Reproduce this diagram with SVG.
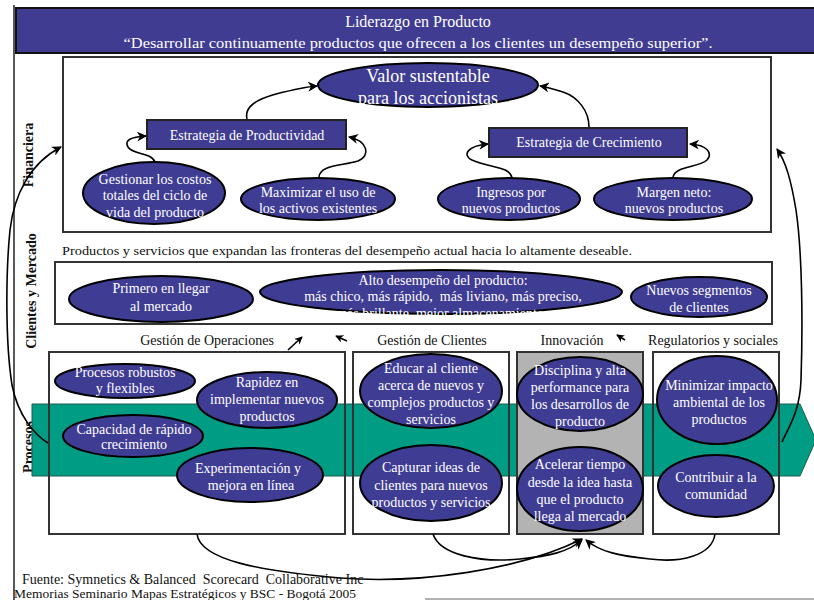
<svg xmlns="http://www.w3.org/2000/svg" width="814" height="600" viewBox="0 0 814 600">
  <defs>
    <marker id="arr" viewBox="0 0 10 10" refX="9" refY="5" markerWidth="10" markerHeight="10" markerUnits="userSpaceOnUse" orient="auto">
      <path d="M0,0 L10,5 L0,10 L3,5 Z" fill="#000"/>
    </marker>
    <marker id="arrS" viewBox="0 0 10 10" refX="9" refY="5" markerWidth="8" markerHeight="8" markerUnits="userSpaceOnUse" orient="auto">
      <path d="M0,0 L10,5 L0,10 L3,5 Z" fill="#000"/>
    </marker>
  </defs>
  <style>
    text { font-family: "Liberation Serif", "Times New Roman", serif; }
    .hdr { fill: #3f3c91; stroke: #111; stroke-width: 2; }
    .box { fill: none; stroke: #333; stroke-width: 2; }
    .sbox { fill: #3f3c91; stroke: #222; stroke-width: 2; }
    .ell { fill: #3f3c94; stroke: #000; stroke-width: 2; }
    .wt { fill: #fff; font-size: 14px; text-anchor: middle; }
    .bk { fill: #111; font-size: 14px; }
    .mid { text-anchor: middle; }
    .vlab { fill: #111; font-size: 14px; font-weight: bold; text-anchor: middle; }
    .con { fill: none; stroke: #000; stroke-width: 1.6; }
  </style>

  <rect width="814" height="600" fill="#fff"/>

  <!-- outer frame -->
  <line x1="14" y1="5" x2="14" y2="600" stroke="#222" stroke-width="1.5"/>
  <line x1="425" y1="599" x2="814" y2="599" stroke="#999" stroke-width="1.5"/>

  <!-- header -->
  <g id="header">
    <rect class="hdr" x="16" y="8" width="806" height="45"/>
    <text class="wt" x="418" y="27" style="font-size:16px">Liderazgo en Producto</text>
    <text class="wt" x="418" y="48" style="font-size:15.5px" textLength="589" lengthAdjust="spacingAndGlyphs">“Desarrollar continuamente productos que ofrecen a los clientes un desempeño superior”.</text>
  </g>

  <!-- perspective labels -->
  <g id="labels">
    <text class="vlab" transform="translate(33,155) rotate(-90)">Financiera</text>
    <text class="vlab" transform="translate(36,291) rotate(-90)">Clientes y Mercado</text>
    <text class="vlab" transform="translate(33,447) rotate(-90)">Procesos</text>
  </g>

  <!-- financial perspective -->
  <g id="financiera">
    <rect class="box" x="63" y="57" width="708" height="175"/>
  </g>
  <g id="valor">
    <ellipse class="ell" cx="428" cy="85" rx="110" ry="22"/>
    <text class="wt" x="428" style="font-size:18px"><tspan x="428" y="82">Valor sustentable</tspan><tspan x="428" y="104">para los accionistas</tspan></text>
  </g>
  <g id="productividad">
    <rect class="sbox" x="147" y="120" width="199" height="29"/>
    <text class="wt" x="247" y="140">Estrategia de Productividad</text>
  </g>
  <g id="crecimiento">
    <rect class="sbox" x="489" y="128" width="198" height="29"/>
    <text class="wt" x="589" y="147">Estrategia de Crecimiento</text>
  </g>
  <g id="gestionar">
    <ellipse class="ell" cx="154" cy="193" rx="71" ry="31"/>
    <text class="wt"><tspan x="155" y="184">Gestionar los costos</tspan><tspan x="155" y="200">totales del ciclo de</tspan><tspan x="155" y="217">vida del producto</tspan></text>
  </g>
  <g id="maximizar">
    <ellipse class="ell" cx="318" cy="199" rx="77" ry="21"/>
    <text class="wt"><tspan x="318" y="197">Maximizar el uso de</tspan><tspan x="318" y="213">los activos existentes</tspan></text>
  </g>
  <g id="ingresos">
    <ellipse class="ell" cx="509" cy="199" rx="71" ry="21"/>
    <text class="wt"><tspan x="511" y="197">Ingresos por</tspan><tspan x="511" y="213">nuevos productos</tspan></text>
  </g>
  <g id="margen">
    <ellipse class="ell" cx="673" cy="199" rx="79" ry="21"/>
    <text class="wt"><tspan x="674" y="197">Margen neto:</tspan><tspan x="674" y="213">nuevos productos</tspan></text>
  </g>

  <!-- customer perspective -->
  <text class="bk" x="62" y="255" style="font-size:13.5px" textLength="570" lengthAdjust="spacingAndGlyphs">Productos y servicios que expandan las fronteras del desempeño actual hacia lo altamente deseable.</text>
  <g id="clientes">
    <rect class="box" x="55" y="262" width="717" height="62"/>
  </g>
  <g id="primero">
    <ellipse class="ell" cx="161" cy="299" rx="92" ry="23"/>
    <text class="wt"><tspan x="161" y="293">Primero en llegar</tspan><tspan x="161" y="311">al mercado</tspan></text>
  </g>
  <g id="alto">
    <ellipse class="ell" cx="441" cy="292" rx="181" ry="22"/>
    <text class="wt"><tspan x="443" y="285">Alto desempeño del producto:</tspan><tspan x="443" y="301" xml:space="preserve">más chico, más rápido,  más liviano, más preciso,</tspan><tspan x="440" y="318">más brillante, mejor almacenamiento</tspan></text>
  </g>
  <g id="segmentos">
    <ellipse class="ell" cx="699" cy="297" rx="68" ry="20"/>
    <text class="wt"><tspan x="699" y="295">Nuevos segmentos</tspan><tspan x="699" y="312">de clientes</tspan></text>
  </g>

  <!-- process group headings -->
  <g id="headings">
    <text class="bk mid" x="207" y="345">Gestión de Operaciones</text>
    <text class="bk mid" x="432" y="345">Gestión de Clientes</text>
    <text class="bk mid" x="572" y="345">Innovación</text>
    <text class="bk mid" x="713" y="345">Regulatorios y sociales</text>
  </g>

  <!-- process perspective -->
  <g id="procesos">
    <rect x="49" y="352" width="296" height="182" fill="#fff"/>
    <rect x="353" y="352" width="156" height="182" fill="#fff"/>
    <rect x="653" y="352" width="126" height="182" fill="#fff"/>
    <polygon points="32,404 800,404 816,440 800,476 32,476" fill="#009c84" stroke="#1d5c4e" stroke-width="1"/>
    <rect x="517" y="352" width="126" height="182" fill="#b3b3b3"/>
  </g>
  <g id="operaciones">
    <rect class="box" x="49" y="352" width="296" height="182"/>
  </g>
  <g id="gclientes">
    <rect class="box" x="353" y="352" width="156" height="182"/>
  </g>
  <g id="innovacion">
    <rect class="box" x="517" y="352" width="126" height="182"/>
  </g>
  <g id="regulatorios">
    <rect class="box" x="653" y="352" width="126" height="182"/>
  </g>

  <g id="robustos">
    <ellipse class="ell" cx="125" cy="381" rx="70" ry="17"/>
    <text class="wt"><tspan x="125" y="377">Procesos robustos</tspan><tspan x="125" y="393">y flexibles</tspan></text>
  </g>
  <g id="rapidez">
    <ellipse class="ell" cx="267" cy="400" rx="70" ry="28"/>
    <text class="wt"><tspan x="267" y="387">Rapidez en</tspan><tspan x="267" y="404">implementar nuevos</tspan><tspan x="267" y="421">productos</tspan></text>
  </g>
  <g id="capacidad">
    <ellipse class="ell" cx="133" cy="436" rx="70" ry="21"/>
    <text class="wt"><tspan x="134" y="434">Capacidad de rápido</tspan><tspan x="134" y="449">crecimiento</tspan></text>
  </g>
  <g id="experimentacion">
    <ellipse class="ell" cx="250" cy="475" rx="73" ry="27"/>
    <text class="wt"><tspan x="248" y="473">Experimentación y</tspan><tspan x="251" y="490">mejora en línea</tspan></text>
  </g>
  <g id="educar">
    <ellipse class="ell" cx="431" cy="391" rx="71" ry="37"/>
    <text class="wt"><tspan x="431" y="373">Educar al cliente</tspan><tspan x="431" y="390">acerca de nuevos y</tspan><tspan x="431" y="407">complejos productos y</tspan><tspan x="431" y="424">servicios</tspan></text>
  </g>
  <g id="capturar">
    <ellipse class="ell" cx="431" cy="483" rx="71" ry="38"/>
    <text class="wt"><tspan x="431" y="472">Capturar ideas de</tspan><tspan x="431" y="490">clientes para nuevos</tspan><tspan x="431" y="507">productos y servicios</tspan></text>
  </g>
  <g id="disciplina">
    <ellipse class="ell" cx="580" cy="394" rx="63" ry="37"/>
    <text class="wt"><tspan x="580" y="375">Disciplina y alta</tspan><tspan x="580" y="392">performance para</tspan><tspan x="580" y="409">los desarrollos de</tspan><tspan x="580" y="426">producto</tspan></text>
  </g>
  <g id="acelerar">
    <ellipse class="ell" cx="580" cy="489" rx="63" ry="42"/>
    <text class="wt"><tspan x="580" y="469">Acelerar tiempo</tspan><tspan x="580" y="487">desde la idea hasta</tspan><tspan x="580" y="504">que el producto</tspan><tspan x="580" y="521">llega al mercado</tspan></text>
  </g>
  <g id="minimizar">
    <ellipse class="ell" cx="717" cy="400" rx="60" ry="44"/>
    <text class="wt"><tspan x="719" y="390">Minimizar impacto</tspan><tspan x="719" y="407">ambiental de los</tspan><tspan x="719" y="424">productos</tspan></text>
  </g>
  <g id="contribuir">
    <ellipse class="ell" cx="716" cy="486" rx="58" ry="31"/>
    <text class="wt"><tspan x="716" y="482">Contribuir a la</tspan><tspan x="716" y="499">comunidad</tspan></text>
  </g>

  <!-- connectors -->
  <g id="connectors">
    <path class="con" marker-end="url(#arr)" d="M247,119 C244,106 258,99 276,94 C292,90 304,87 317,86"/>
    <path class="con" marker-end="url(#arr)" d="M589,127 C589,111 578,97 563,92 C553,89 546,87 540,86"/>
    <path class="con" marker-end="url(#arr)" d="M155,162 C151,152 133,155 128,147 C124,140 131,137 146,136"/>
    <path class="con" marker-end="url(#arr)" d="M319,177 C320,165 341,166 358,161 C371,156 368,141 349,137"/>
    <path class="con" marker-end="url(#arr)" d="M512,178 C510,166 490,168 472,160 C462,155 467,146 488,144"/>
    <path class="con" marker-end="url(#arr)" d="M673,177 C675,166 698,168 707,160 C713,153 707,145 690,144"/>
    <path class="con" marker-end="url(#arr)" d="M48,443 C35,435 18,416 12,385 C5,340 6,270 10,230 C14,195 30,163 61,147"/>
    <path class="con" marker-end="url(#arr)" d="M782,442 C790,425 800,410 801,380 C803,320 802,250 796,210 C791,180 786,162 777,149"/>
    <path class="con" marker-end="url(#arr)" d="M197,534 C200,560 260,571 340,578 C420,584 520,570 582,539"/>
    <path class="con" marker-end="url(#arr)" d="M433,534 C440,555 480,563 520,559 C550,556 568,552 582,540"/>
    <path class="con" marker-end="url(#arr)" d="M715,534 C712,556 680,563 650,559 C620,556 600,552 586,540"/>
    <path class="con" marker-end="url(#arrS)" d="M288,350 L302,337"/>
    <path class="con" marker-end="url(#arrS)" d="M347,341 L336,336"/>
    <path class="con" marker-end="url(#arrS)" d="M625,340 L617,335"/>
  </g>

  <!-- source -->
  <text class="bk" x="22" y="584" style="font-size:14px" xml:space="preserve">Fuente: Symnetics &amp; Balanced  Scorecard  Collaborative Inc</text>
  <text class="bk" x="14" y="598" style="font-size:13.5px">Memorias Seminario Mapas Estratégicos y BSC - Bogotá 2005</text>
</svg>
